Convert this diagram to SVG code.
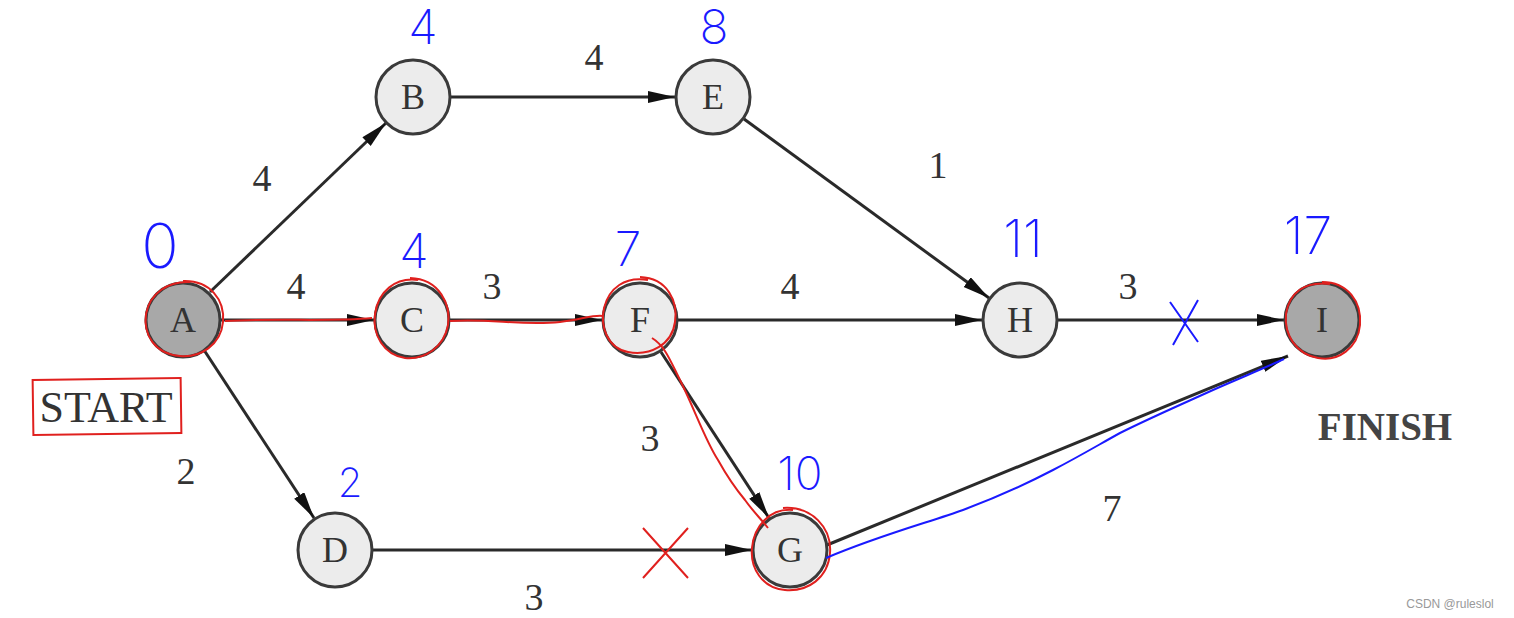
<svg xmlns="http://www.w3.org/2000/svg" width="1514" height="618" viewBox="0 0 1514 618">
<style>
.node{fill:#ececec;stroke:#3a3a3a;stroke-width:3}
.dark{fill:#a8a8a8}
.lbl{font-family:"Liberation Serif",serif;font-size:36px;fill:#333;text-anchor:middle;dominant-baseline:central}
.w{font-family:"Liberation Serif",serif;font-size:38px;fill:#333;text-anchor:middle}
.edge{stroke:#2a2a2a;stroke-width:3;fill:none;marker-end:url(#ah)}
.hand{font-family:Inter,"Open Sans",sans-serif;font-weight:200;fill:#1a1aff;text-anchor:middle}
.red{stroke:#e0201e;stroke-width:2;fill:none}
.blue{stroke:#1a1aff;stroke-width:2;fill:none}
</style>
<defs>
<marker id="ah" markerUnits="userSpaceOnUse" markerWidth="28" markerHeight="14" refX="27" refY="6" orient="auto">
<path d="M0,0 L27,6 L0,12 z" fill="#111"/>
</marker>
</defs>
<rect width="1514" height="618" fill="#fff"/>
<g id="connectors">
<line class="edge" x1="210" y1="292" x2="386" y2="123"/>
<line class="edge" x1="221" y1="320" x2="374" y2="320"/>
<line class="edge" x1="204" y1="350" x2="314" y2="518"/>
<line class="edge" x1="451" y1="97" x2="675" y2="97"/>
<line class="edge" x1="450" y1="320" x2="602" y2="320"/>
<line class="edge" x1="678" y1="320" x2="982" y2="320"/>
<line class="edge" x1="744" y1="119" x2="989" y2="298"/>
<line class="edge" x1="661" y1="352" x2="769" y2="518"/>
<line class="edge" x1="373" y1="550" x2="752" y2="550"/>
<line class="edge" x1="827" y1="545" x2="1288" y2="356"/>
<line class="edge" x1="1058" y1="320" x2="1284" y2="320"/>
<text class="w" x="262" y="191">4</text>
<text class="w" x="296" y="299">4</text>
<text class="w" x="492" y="299">3</text>
<text class="w" x="594" y="70">4</text>
<text class="w" x="938" y="178">1</text>
<text class="w" x="790" y="299">4</text>
<text class="w" x="1128" y="299">3</text>
<text class="w" x="650" y="451">3</text>
<text class="w" x="186" y="484">2</text>
<text class="w" x="534" y="610">3</text>
<text class="w" x="1112" y="521">7</text>
</g>
<g id="node-A"><circle class="node dark" cx="183" cy="320" r="37"/><text class="lbl" x="183" y="320">A</text></g>
<g id="node-B"><circle class="node" cx="413" cy="97" r="37"/><text class="lbl" x="413" y="97">B</text></g>
<g id="node-C"><circle class="node" cx="412" cy="320" r="37"/><text class="lbl" x="412" y="320">C</text></g>
<g id="node-D"><circle class="node" cx="335" cy="550" r="37"/><text class="lbl" x="335" y="550">D</text></g>
<g id="node-E"><circle class="node" cx="713" cy="97" r="37"/><text class="lbl" x="713" y="97">E</text></g>
<g id="node-F"><circle class="node" cx="640" cy="320" r="37"/><text class="lbl" x="640" y="320">F</text></g>
<g id="node-G"><circle class="node" cx="790" cy="550" r="37"/><text class="lbl" x="790" y="550">G</text></g>
<g id="node-H"><circle class="node" cx="1020" cy="320" r="37"/><text class="lbl" x="1020" y="320">H</text></g>
<g id="node-I"><circle class="node dark" cx="1322" cy="320" r="37"/><text class="lbl" x="1322" y="320">I</text></g>
<text x="106" y="422" font-family="Liberation Serif,serif" font-size="44" fill="#333" text-anchor="middle">START</text>
<text x="1385" y="440" font-family="Liberation Serif,serif" font-size="39" font-weight="bold" fill="#444" text-anchor="middle">FINISH</text>
<g id="annotations">
<rect class="red" x="33" y="379" width="148" height="55" transform="rotate(-0.8 107 406)"/>
<path class="red" d="M183,281 C210,280 225,300 223,322 C221,345 200,358 180,356 C155,354 143,335 146,314 C150,293 168,281 190,282"/>
<path class="red" d="M410,278 C440,279 451,305 448,325 C444,347 425,360 405,358 C384,355 372,335 375,314 C378,292 395,277 418,280"/>
<path class="red" d="M640,277 C668,278 678,302 675,322 C672,345 650,356 628,352 C607,348 600,326 604,308 C609,288 625,276 648,280"/>
<path class="red" d="M783,508 C812,506 832,528 830,553 C828,578 808,592 785,590 C762,588 750,568 752,548 C754,526 770,508 793,510"/>
<path class="red" d="M1322,282 C1348,282 1362,302 1360,325 C1358,348 1338,362 1318,358 C1296,354 1284,335 1286,314 C1289,293 1304,281 1330,284"/>
<path class="red" d="M225,321 C280,318 330,322 372,318"/>
<path class="red" d="M450,321 C490,318 520,326 560,322 C580,320 595,314 603,316"/>
<path class="red" d="M652,338 C665,346 670,360 680,380 C695,410 705,440 718,460 C728,478 735,488 745,500 C752,510 760,518 768,528"/>
<path class="red" d="M643,528 L688,578 M688,528 L643,578"/>
<path class="blue" d="M1170,302 L1198,342 M1198,300 L1173,345"/>
<path class="blue" d="M826,558 C880,535 930,522 963,510 C995,498 1030,482 1053,470 C1080,456 1100,444 1120,433 C1150,418 1180,405 1213,390 C1240,378 1265,368 1284,359"/>
<text class="hand" x="160" y="268" font-size="62">0</text>
<text class="hand" x="423" y="44" font-size="48">4</text>
<text class="hand" x="714" y="44" font-size="48">8</text>
<text class="hand" x="414" y="268" font-size="48">4</text>
<text class="hand" x="628" y="266" font-size="48">7</text>
<text class="hand" x="1023" y="257" font-size="52">11</text>
<text class="hand" x="1308" y="254" font-size="52">17</text>
<text class="hand" x="800" y="490" font-size="46">10</text>
<text class="hand" x="350" y="497" font-size="40">2</text>
</g>
<text x="1450" y="608" font-family="Liberation Sans,sans-serif" font-size="12" fill="#999" text-anchor="middle">CSDN @ruleslol</text>
</svg>
